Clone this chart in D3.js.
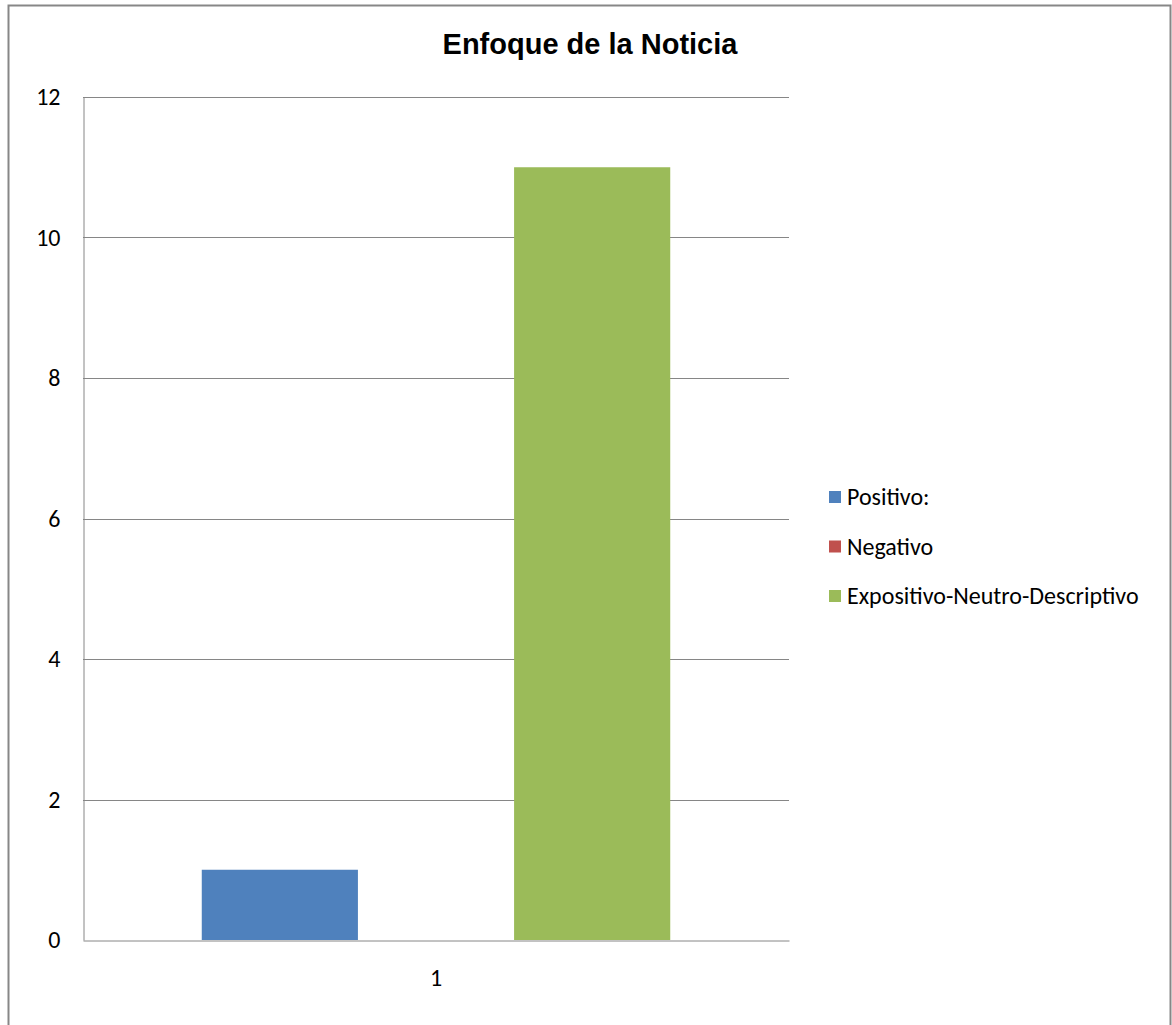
<!DOCTYPE html>
<html><head><meta charset="utf-8">
<script src="https://cdn.jsdelivr.net/npm/d3@7"></script>
<style>body{margin:0;background:#fff;}svg{display:block;}</style>
</head><body>
<svg id="c" width="1172" height="1025"></svg>
<script>
const title = "Enfoque de la Noticia";
const categories = ["1"];
const seriesNames = ["Positivo:", "Negativo", "Expositivo-Neutro-Descriptivo"];
const seriesValues = [1, 0, 11];
const seriesColors = ["#4F81BD", "#C0504D", "#9BBB59"];
const yTicks = [0, 2, 4, 6, 8, 10, 12];

const svg = d3.select("#c");
const font = "Calibri, Carlito, Lato, sans-serif";

// outer frame
svg.append("rect").attr("x", 8.5).attr("y", 5.5).attr("width", 1162).attr("height", 1040)
  .attr("fill", "#fff").attr("stroke", "#878787").attr("stroke-width", 2);

const L = 83, R = 789, T = 97, B = 940;
const y = d3.scaleLinear().domain([0, 12]).range([B, T]);
const x0 = d3.scaleBand().domain(categories).range([L, R]).paddingInner(0).paddingOuter(0.2535);
const x1 = d3.scaleBand().domain(seriesNames).range([0, x0.bandwidth()]);

// gridlines
svg.append("g").selectAll("line").data(yTicks.filter(d => d > 0)).join("line")
  .attr("x1", L).attr("x2", R).attr("y1", d => Math.round(y(d)) + 0.5).attr("y2", d => Math.round(y(d)) + 0.5)
  .attr("stroke", "#868686").attr("stroke-width", 1);

// bars
const data = categories.flatMap(c => seriesNames.map((s, i) => ({c, s, v: seriesValues[i], col: seriesColors[i]})));
svg.append("g").selectAll("rect").data(data).join("rect")
  .attr("x", d => x0(d.c) + x1(d.s))
  .attr("width", x1.bandwidth())
  .attr("y", d => y(d.v))
  .attr("height", d => B - y(d.v))
  .attr("fill", d => d.col);

// y axis
const yAxis = d3.axisLeft(y).tickValues(yTicks).tickSize(0).tickPadding(23).tickFormat(d3.format("d"));
const gy = svg.append("g").attr("transform", `translate(${L + 0.5},0)`).call(yAxis);
gy.select(".domain").attr("stroke", "#868686");
gy.selectAll("text").attr("font-family", font).attr("font-size", 24).attr("fill", "#000");

// x axis
const xAxis = d3.axisBottom(x0).tickSize(0).tickPadding(28);
const gx = svg.append("g").attr("transform", `translate(0,${B + 0.5})`).call(xAxis);
gx.select(".domain").attr("stroke", "#868686");
gx.selectAll("text").attr("font-family", font).attr("font-size", 24).attr("fill", "#000");

// title
svg.append("text").attr("x", 590).attr("y", 54).attr("text-anchor", "middle")
  .attr("font-family", "'Liberation Sans', Arial, sans-serif").attr("font-weight", "bold")
  .attr("font-size", 29).attr("fill", "#000").text(title);

// legend
const lg = svg.append("g").selectAll("g").data(seriesNames).join("g")
  .attr("transform", (d, i) => `translate(829,${497 + i * 49.5})`);
lg.append("rect").attr("x", 0).attr("y", -6).attr("width", 12).attr("height", 12)
  .attr("fill", (d, i) => seriesColors[i]);
lg.append("text").attr("x", 18).attr("y", 0).attr("dy", "0.35em")
  .attr("font-family", font).attr("font-size", 24).attr("fill", "#000").text(d => d);
</script>
</body></html>
